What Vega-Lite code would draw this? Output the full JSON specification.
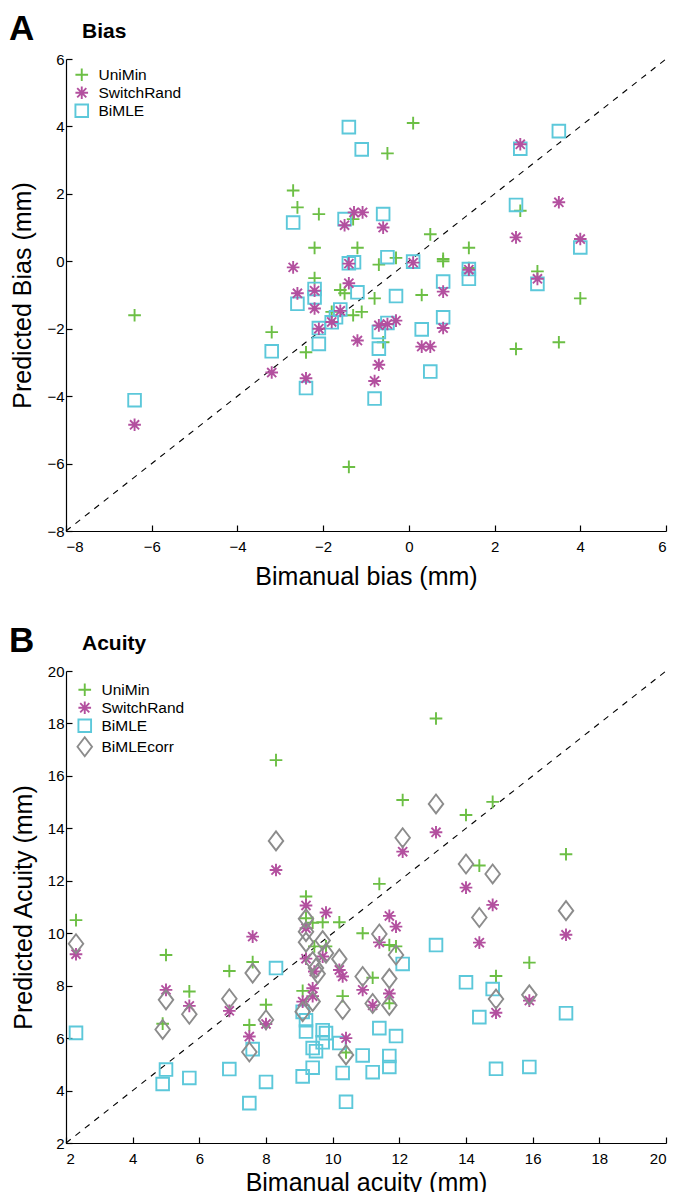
{
  "$schema": "https://vega.github.io/schema/vega-lite/v6.json",
  "padding": {"left": 9, "top": 12, "right": 0, "bottom": 0},
  "background": "white",
  "config": {
    "font": "Liberation Sans",
    "view": {"stroke": null},
    "axis": {
      "grid": false,
      "domainColor": "black",
      "domainWidth": 1.2,
      "tickColor": "black",
      "tickWidth": 1.2,
      "tickSize": -6,
      "labelColor": "black",
      "labelFontSize": 15,
      "titleColor": "black",
      "titleFontSize": 25,
      "titleFontWeight": "normal"
    },
    "axisX": {"labelPadding": 14, "titlePadding": 10},
    "axisY": {"labelPadding": 8, "titlePadding": 11},
    "legend": {
      "orient": "top-left",
      "offset": 8,
      "title": null,
      "labelFontSize": 15.5,
      "labelColor": "black",
      "symbolSize": 160,
      "symbolStrokeWidth": 1.9,
      "rowPadding": -3,
      "labelOffset": 9
    },
    "title": {
      "anchor": "start",
      "frame": "group",
      "fontWeight": "bold",
      "color": "black"
    }
  },
  "datasets": {
    "bias": [
      {"m": "UniMin", "x": -6.4, "y": -1.6},
      {"m": "UniMin", "x": -3.2, "y": -2.1},
      {"m": "UniMin", "x": -2.7, "y": 2.1},
      {"m": "UniMin", "x": -2.6, "y": 1.6},
      {"m": "UniMin", "x": -2.1, "y": 1.4},
      {"m": "UniMin", "x": -2.2, "y": 0.4},
      {"m": "UniMin", "x": -2.2, "y": -0.5},
      {"m": "UniMin", "x": -2.4, "y": -2.7},
      {"m": "UniMin", "x": -1.6, "y": -0.85},
      {"m": "UniMin", "x": -1.5, "y": -0.95},
      {"m": "UniMin", "x": -1.3, "y": 1.25},
      {"m": "UniMin", "x": -1.2, "y": 0.4},
      {"m": "UniMin", "x": -1.4, "y": -6.1},
      {"m": "UniMin", "x": -1.8, "y": -1.5},
      {"m": "UniMin", "x": -1.3, "y": -1.6},
      {"m": "UniMin", "x": -1.1, "y": -1.5},
      {"m": "UniMin", "x": -0.8, "y": -1.1},
      {"m": "UniMin", "x": -0.7, "y": -0.1},
      {"m": "UniMin", "x": -0.6, "y": -2.4},
      {"m": "UniMin", "x": -0.5, "y": 3.2},
      {"m": "UniMin", "x": -0.3, "y": 0.1},
      {"m": "UniMin", "x": 0.1, "y": 4.1},
      {"m": "UniMin", "x": 0.3, "y": -1.0},
      {"m": "UniMin", "x": 0.5, "y": 0.8},
      {"m": "UniMin", "x": 0.8, "y": 0.07},
      {"m": "UniMin", "x": 0.8, "y": 0.0},
      {"m": "UniMin", "x": 1.4, "y": 0.4},
      {"m": "UniMin", "x": 1.4, "y": -0.2},
      {"m": "UniMin", "x": 2.5, "y": -2.6},
      {"m": "UniMin", "x": 2.6, "y": 1.5},
      {"m": "UniMin", "x": 3.0, "y": -0.3},
      {"m": "UniMin", "x": 3.5, "y": -2.4},
      {"m": "UniMin", "x": 4.0, "y": -1.1},
      {"m": "BiMLE", "x": -6.4, "y": -4.12},
      {"m": "BiMLE", "x": -3.2, "y": -2.67},
      {"m": "BiMLE", "x": -2.7, "y": 1.15},
      {"m": "BiMLE", "x": -2.6, "y": -1.26},
      {"m": "BiMLE", "x": -2.4, "y": -3.76},
      {"m": "BiMLE", "x": -2.2, "y": -0.82},
      {"m": "BiMLE", "x": -2.2, "y": -1.07},
      {"m": "BiMLE", "x": -2.1, "y": -1.98},
      {"m": "BiMLE", "x": -2.1, "y": -2.45},
      {"m": "BiMLE", "x": -1.8, "y": -1.81},
      {"m": "BiMLE", "x": -1.7, "y": -1.66},
      {"m": "BiMLE", "x": -1.6, "y": -1.43},
      {"m": "BiMLE", "x": -1.5, "y": 1.25},
      {"m": "BiMLE", "x": -1.4, "y": 3.98},
      {"m": "BiMLE", "x": -1.4, "y": -0.06},
      {"m": "BiMLE", "x": -1.28, "y": -0.03},
      {"m": "BiMLE", "x": -1.2, "y": -0.92},
      {"m": "BiMLE", "x": -1.1, "y": 3.32},
      {"m": "BiMLE", "x": -0.8, "y": -4.07},
      {"m": "BiMLE", "x": -0.7, "y": -2.1},
      {"m": "BiMLE", "x": -0.7, "y": -2.59},
      {"m": "BiMLE", "x": -0.6, "y": 1.4},
      {"m": "BiMLE", "x": -0.5, "y": 0.12},
      {"m": "BiMLE", "x": -0.5, "y": -1.83},
      {"m": "BiMLE", "x": -0.3, "y": -1.03},
      {"m": "BiMLE", "x": 0.1, "y": -0.01},
      {"m": "BiMLE", "x": 0.3, "y": -2.02},
      {"m": "BiMLE", "x": 0.5, "y": -3.27},
      {"m": "BiMLE", "x": 0.8, "y": -0.6},
      {"m": "BiMLE", "x": 0.8, "y": -1.66},
      {"m": "BiMLE", "x": 1.4, "y": -0.23},
      {"m": "BiMLE", "x": 1.4, "y": -0.52},
      {"m": "BiMLE", "x": 2.5, "y": 1.67},
      {"m": "BiMLE", "x": 2.6, "y": 3.34},
      {"m": "BiMLE", "x": 3.0, "y": -0.67},
      {"m": "BiMLE", "x": 3.5, "y": 3.86},
      {"m": "BiMLE", "x": 4.0, "y": 0.41},
      {"m": "SwitchRand", "x": -6.4, "y": -4.85},
      {"m": "SwitchRand", "x": -3.2, "y": -3.3},
      {"m": "SwitchRand", "x": -2.7, "y": -0.18},
      {"m": "SwitchRand", "x": -2.6, "y": -0.95},
      {"m": "SwitchRand", "x": -2.4, "y": -3.47},
      {"m": "SwitchRand", "x": -2.2, "y": -0.87},
      {"m": "SwitchRand", "x": -2.2, "y": -1.4},
      {"m": "SwitchRand", "x": -2.1, "y": -2.0},
      {"m": "SwitchRand", "x": -1.8, "y": -1.8},
      {"m": "SwitchRand", "x": -1.6, "y": -1.47},
      {"m": "SwitchRand", "x": -1.5, "y": 1.07},
      {"m": "SwitchRand", "x": -1.4, "y": -0.07},
      {"m": "SwitchRand", "x": -1.4, "y": -0.65},
      {"m": "SwitchRand", "x": -1.28, "y": 1.45},
      {"m": "SwitchRand", "x": -1.08, "y": 1.45},
      {"m": "SwitchRand", "x": -1.2, "y": -2.35},
      {"m": "SwitchRand", "x": -0.8, "y": -3.55},
      {"m": "SwitchRand", "x": -0.7, "y": -3.07},
      {"m": "SwitchRand", "x": -0.7, "y": -1.9},
      {"m": "SwitchRand", "x": -0.6, "y": 1.0},
      {"m": "SwitchRand", "x": -0.5, "y": -1.86},
      {"m": "SwitchRand", "x": -0.3, "y": -1.76},
      {"m": "SwitchRand", "x": 0.1, "y": -0.04},
      {"m": "SwitchRand", "x": 0.3, "y": -2.53},
      {"m": "SwitchRand", "x": 0.5, "y": -2.53},
      {"m": "SwitchRand", "x": 0.8, "y": -0.9},
      {"m": "SwitchRand", "x": 0.8, "y": -1.98},
      {"m": "SwitchRand", "x": 1.4, "y": -0.25},
      {"m": "SwitchRand", "x": 2.5, "y": 0.71},
      {"m": "SwitchRand", "x": 2.6, "y": 3.47},
      {"m": "SwitchRand", "x": 3.0, "y": -0.52},
      {"m": "SwitchRand", "x": 3.5, "y": 1.75},
      {"m": "SwitchRand", "x": 4.0, "y": 0.66}
    ],
    "acuity": [
      {"m": "UniMin", "x": 2.3, "y": 10.5},
      {"m": "UniMin", "x": 4.9, "y": 6.55},
      {"m": "UniMin", "x": 5.0, "y": 9.17},
      {"m": "UniMin", "x": 5.7, "y": 7.78},
      {"m": "UniMin", "x": 6.9, "y": 8.56},
      {"m": "UniMin", "x": 7.5, "y": 6.5},
      {"m": "UniMin", "x": 7.6, "y": 8.9},
      {"m": "UniMin", "x": 8.0, "y": 7.27},
      {"m": "UniMin", "x": 8.3, "y": 16.6},
      {"m": "UniMin", "x": 9.1, "y": 7.8},
      {"m": "UniMin", "x": 9.2, "y": 11.4},
      {"m": "UniMin", "x": 9.2, "y": 10.57},
      {"m": "UniMin", "x": 9.4, "y": 10.4},
      {"m": "UniMin", "x": 9.45, "y": 9.5},
      {"m": "UniMin", "x": 9.7, "y": 10.42},
      {"m": "UniMin", "x": 9.8, "y": 9.5},
      {"m": "UniMin", "x": 10.2, "y": 10.42},
      {"m": "UniMin", "x": 10.3, "y": 7.6},
      {"m": "UniMin", "x": 10.4, "y": 5.45},
      {"m": "UniMin", "x": 10.9, "y": 10.0},
      {"m": "UniMin", "x": 11.2, "y": 8.3},
      {"m": "UniMin", "x": 11.4, "y": 11.88},
      {"m": "UniMin", "x": 11.7, "y": 9.55},
      {"m": "UniMin", "x": 11.9, "y": 9.5},
      {"m": "UniMin", "x": 11.7, "y": 7.33},
      {"m": "UniMin", "x": 12.1, "y": 15.08},
      {"m": "UniMin", "x": 13.1, "y": 18.19},
      {"m": "UniMin", "x": 14.0, "y": 14.51},
      {"m": "UniMin", "x": 14.4, "y": 12.58},
      {"m": "UniMin", "x": 14.8, "y": 15.01},
      {"m": "UniMin", "x": 14.9, "y": 8.37},
      {"m": "UniMin", "x": 15.9, "y": 8.88},
      {"m": "UniMin", "x": 17.0, "y": 13.01},
      {"m": "BiMLE", "x": 2.3, "y": 6.2},
      {"m": "BiMLE", "x": 4.9, "y": 4.25},
      {"m": "BiMLE", "x": 5.0, "y": 4.8},
      {"m": "BiMLE", "x": 5.7, "y": 4.48},
      {"m": "BiMLE", "x": 6.9, "y": 4.82},
      {"m": "BiMLE", "x": 7.5, "y": 3.52},
      {"m": "BiMLE", "x": 7.6, "y": 5.58},
      {"m": "BiMLE", "x": 8.0, "y": 4.33},
      {"m": "BiMLE", "x": 8.3, "y": 8.67},
      {"m": "BiMLE", "x": 9.1, "y": 4.54},
      {"m": "BiMLE", "x": 9.1, "y": 7.0},
      {"m": "BiMLE", "x": 9.2, "y": 6.68},
      {"m": "BiMLE", "x": 9.2, "y": 6.25},
      {"m": "BiMLE", "x": 9.4, "y": 4.87},
      {"m": "BiMLE", "x": 9.4, "y": 5.62},
      {"m": "BiMLE", "x": 9.5, "y": 5.5},
      {"m": "BiMLE", "x": 9.7, "y": 6.3},
      {"m": "BiMLE", "x": 9.8, "y": 6.19},
      {"m": "BiMLE", "x": 9.7, "y": 5.84},
      {"m": "BiMLE", "x": 10.2, "y": 5.81},
      {"m": "BiMLE", "x": 10.3, "y": 4.67},
      {"m": "BiMLE", "x": 10.4, "y": 3.57},
      {"m": "BiMLE", "x": 10.9, "y": 5.34},
      {"m": "BiMLE", "x": 11.2, "y": 4.7},
      {"m": "BiMLE", "x": 11.4, "y": 6.38},
      {"m": "BiMLE", "x": 11.7, "y": 5.32},
      {"m": "BiMLE", "x": 11.7, "y": 4.9},
      {"m": "BiMLE", "x": 11.9, "y": 6.08},
      {"m": "BiMLE", "x": 12.1, "y": 8.83},
      {"m": "BiMLE", "x": 13.1, "y": 9.55},
      {"m": "BiMLE", "x": 14.0, "y": 8.13},
      {"m": "BiMLE", "x": 14.4, "y": 6.8},
      {"m": "BiMLE", "x": 14.8, "y": 7.87},
      {"m": "BiMLE", "x": 14.9, "y": 4.83},
      {"m": "BiMLE", "x": 15.9, "y": 4.9},
      {"m": "BiMLE", "x": 17.0, "y": 6.95},
      {"m": "SwitchRand", "x": 2.3, "y": 9.2},
      {"m": "SwitchRand", "x": 5.0, "y": 7.84},
      {"m": "SwitchRand", "x": 5.7, "y": 7.23},
      {"m": "SwitchRand", "x": 6.9, "y": 7.04},
      {"m": "SwitchRand", "x": 7.5, "y": 6.06},
      {"m": "SwitchRand", "x": 7.6, "y": 9.87},
      {"m": "SwitchRand", "x": 8.0, "y": 6.54},
      {"m": "SwitchRand", "x": 8.3, "y": 12.41},
      {"m": "SwitchRand", "x": 9.1, "y": 7.39},
      {"m": "SwitchRand", "x": 9.2, "y": 11.06},
      {"m": "SwitchRand", "x": 9.2, "y": 10.19},
      {"m": "SwitchRand", "x": 9.2, "y": 9.03},
      {"m": "SwitchRand", "x": 9.4, "y": 7.9},
      {"m": "SwitchRand", "x": 9.4, "y": 7.6},
      {"m": "SwitchRand", "x": 9.45, "y": 8.54},
      {"m": "SwitchRand", "x": 9.7, "y": 9.11},
      {"m": "SwitchRand", "x": 9.8, "y": 10.79},
      {"m": "SwitchRand", "x": 10.2, "y": 8.6},
      {"m": "SwitchRand", "x": 10.3, "y": 8.35},
      {"m": "SwitchRand", "x": 10.4, "y": 6.0},
      {"m": "SwitchRand", "x": 10.9, "y": 7.84},
      {"m": "SwitchRand", "x": 11.2, "y": 7.25},
      {"m": "SwitchRand", "x": 11.4, "y": 9.65},
      {"m": "SwitchRand", "x": 11.7, "y": 10.66},
      {"m": "SwitchRand", "x": 11.9, "y": 10.25},
      {"m": "SwitchRand", "x": 11.7, "y": 7.7},
      {"m": "SwitchRand", "x": 12.1, "y": 13.11},
      {"m": "SwitchRand", "x": 13.1, "y": 13.85},
      {"m": "SwitchRand", "x": 14.0, "y": 11.74},
      {"m": "SwitchRand", "x": 14.4, "y": 9.64},
      {"m": "SwitchRand", "x": 14.8, "y": 11.08},
      {"m": "SwitchRand", "x": 14.9, "y": 6.97},
      {"m": "SwitchRand", "x": 15.9, "y": 7.43},
      {"m": "SwitchRand", "x": 17.0, "y": 9.94},
      {"m": "BiMLEcorr", "x": 2.3, "y": 9.6},
      {"m": "BiMLEcorr", "x": 4.9, "y": 6.33},
      {"m": "BiMLEcorr", "x": 5.0, "y": 7.46},
      {"m": "BiMLEcorr", "x": 5.7, "y": 6.91},
      {"m": "BiMLEcorr", "x": 6.9, "y": 7.5},
      {"m": "BiMLEcorr", "x": 7.5, "y": 5.47},
      {"m": "BiMLEcorr", "x": 7.6, "y": 8.48},
      {"m": "BiMLEcorr", "x": 8.0, "y": 6.7},
      {"m": "BiMLEcorr", "x": 8.3, "y": 13.52},
      {"m": "BiMLEcorr", "x": 9.1, "y": 7.01},
      {"m": "BiMLEcorr", "x": 9.2, "y": 10.55},
      {"m": "BiMLEcorr", "x": 9.2, "y": 10.06},
      {"m": "BiMLEcorr", "x": 9.2, "y": 9.66},
      {"m": "BiMLEcorr", "x": 9.4, "y": 8.92},
      {"m": "BiMLEcorr", "x": 9.4, "y": 7.4},
      {"m": "BiMLEcorr", "x": 9.5, "y": 8.67},
      {"m": "BiMLEcorr", "x": 9.55, "y": 8.45},
      {"m": "BiMLEcorr", "x": 9.7, "y": 9.72},
      {"m": "BiMLEcorr", "x": 9.8, "y": 9.24},
      {"m": "BiMLEcorr", "x": 10.2, "y": 9.02},
      {"m": "BiMLEcorr", "x": 10.3, "y": 7.09},
      {"m": "BiMLEcorr", "x": 10.4, "y": 5.36},
      {"m": "BiMLEcorr", "x": 10.9, "y": 8.35},
      {"m": "BiMLEcorr", "x": 11.2, "y": 7.32},
      {"m": "BiMLEcorr", "x": 11.4, "y": 9.97},
      {"m": "BiMLEcorr", "x": 11.7, "y": 8.27},
      {"m": "BiMLEcorr", "x": 11.7, "y": 7.25},
      {"m": "BiMLEcorr", "x": 11.9, "y": 9.17},
      {"m": "BiMLEcorr", "x": 12.1, "y": 13.64},
      {"m": "BiMLEcorr", "x": 13.1, "y": 14.93},
      {"m": "BiMLEcorr", "x": 14.0, "y": 12.64},
      {"m": "BiMLEcorr", "x": 14.4, "y": 10.6},
      {"m": "BiMLEcorr", "x": 14.8, "y": 12.26},
      {"m": "BiMLEcorr", "x": 14.9, "y": 7.49},
      {"m": "BiMLEcorr", "x": 15.9, "y": 7.65},
      {"m": "BiMLEcorr", "x": 17.0, "y": 10.86}
    ],
    "diagA": [{"v": -8}, {"v": 6}],
    "diagB": [{"v": 2}, {"v": 20}]
  },
  "spacing": 35,
  "resolve": {"scale": {"color": "independent", "shape": "independent"}, "legend": {"color": "independent", "shape": "independent"}},
  "vconcat": [
    {
      "title": {"text": "Bias", "fontSize": 21, "offset": -30, "dx": 16},
      "resolve": {"scale": {"color": "independent", "shape": "independent"}, "legend": {"color": "independent", "shape": "independent"}},
      "vconcat": [
        {
          "width": 600,
          "height": 472,
          "title": {"text": "A", "fontSize": 35, "offset": 5, "dx": -57},
          "layer": [
            {
              "data": {"name": "diagA"},
              "mark": {"type": "line", "color": "black", "strokeWidth": 1.1, "strokeDash": [6, 6]},
              "encoding": {
                "x": {"field": "v", "type": "quantitative", "scale": {"domain": [-8, 6], "nice": false}, "axis": {"values": [-8, -6, -4, -2, 0, 2, 4, 6], "title": "Bimanual bias (mm)"}},
                "y": {"field": "v", "type": "quantitative", "scale": {"domain": [-8, 6], "nice": false}, "axis": {"values": [-8, -6, -4, -2, 0, 2, 4, 6], "title": "Predicted Bias (mm)"}}
              }
            },
            {
              "data": {"name": "bias"},
              "mark": {"type": "point", "filled": false, "strokeWidth": 1.9, "opacity": 1},
              "encoding": {
                "x": {"field": "x", "type": "quantitative"},
                "y": {"field": "y", "type": "quantitative"},
                "color": {"field": "m", "type": "nominal", "scale": {"domain": ["UniMin", "SwitchRand", "BiMLE"], "range": ["#6cbf45", "#b3509f", "#5cc8da"]}},
                "shape": {"field": "m", "type": "nominal", "scale": {"domain": ["UniMin", "SwitchRand", "BiMLE"], "range": ["M-1,0H1M0,-1V1", "M-1,0H1M0,-1V1M-0.72,-0.72L0.72,0.72M-0.72,0.72L0.72,-0.72", "square"]}},
                "size": {"value": 160}
              }
            }
          ]
        }
      ]
    },
    {
      "title": {"text": "Acuity", "fontSize": 21, "offset": -30, "dx": 16},
      "resolve": {"scale": {"color": "independent", "shape": "independent"}, "legend": {"color": "independent", "shape": "independent"}},
      "vconcat": [
        {
          "width": 600,
          "height": 472,
          "title": {"text": "B", "fontSize": 35, "offset": 5, "dx": -57},
          "layer": [
            {
              "data": {"name": "diagB"},
              "mark": {"type": "line", "color": "black", "strokeWidth": 1.1, "strokeDash": [6, 6]},
              "encoding": {
                "x": {"field": "v", "type": "quantitative", "scale": {"domain": [2, 20], "nice": false}, "axis": {"values": [2, 4, 6, 8, 10, 12, 14, 16, 18, 20], "title": "Bimanual acuity (mm)", "titlePadding": 4}},
                "y": {"field": "v", "type": "quantitative", "scale": {"domain": [2, 20], "nice": false}, "axis": {"values": [2, 4, 6, 8, 10, 12, 14, 16, 18, 20], "title": "Predicted Acuity (mm)"}}
              }
            },
            {
              "data": {"name": "acuity"},
              "mark": {"type": "point", "filled": false, "strokeWidth": 1.9, "opacity": 1},
              "encoding": {
                "x": {"field": "x", "type": "quantitative"},
                "y": {"field": "y", "type": "quantitative"},
                "color": {"field": "m", "type": "nominal", "scale": {"domain": ["UniMin", "SwitchRand", "BiMLE", "BiMLEcorr"], "range": ["#6cbf45", "#b3509f", "#5cc8da", "#8c8c8c"]}, "legend": {"offset": 11}},
                "shape": {"field": "m", "type": "nominal", "scale": {"domain": ["UniMin", "SwitchRand", "BiMLE", "BiMLEcorr"], "range": ["M-1,0H1M0,-1V1", "M-1,0H1M0,-1V1M-0.72,-0.72L0.72,0.72M-0.72,0.72L0.72,-0.72", "square", "M0,-1.5L1.15,0L0,1.5L-1.15,0Z"]}, "legend": {"offset": 11}},
                "size": {"value": 160}
              }
            }
          ]
        }
      ]
    }
  ]
}
